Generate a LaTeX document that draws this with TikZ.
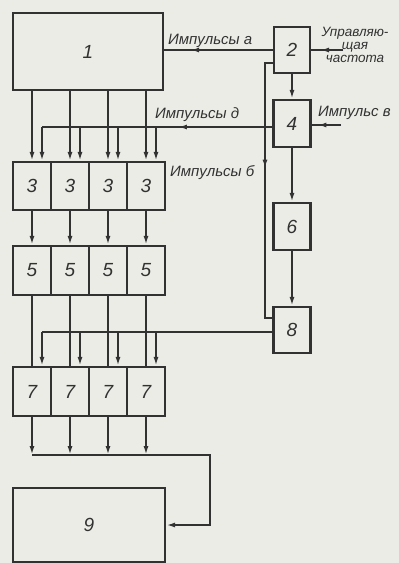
\documentclass[tikz,border=0pt]{standalone}
\usepackage{fontspec}
\setmainfont{Liberation Sans}
\usetikzlibrary{arrows.meta,decorations.markings,calc}
\definecolor{paper}{RGB}{236,236,231}
\definecolor{ink}{RGB}{50,50,50}
\begin{document}
\begin{tikzpicture}[x=1pt,y=-1pt,
  blk/.style={draw=ink, line width=2.2pt, inner sep=0pt, text=ink,
    font=\fontsize{19}{19}\selectfont\itshape},
  cell/.style={blk, minimum width=38pt},
  lbl/.style={font=\fontsize{15}{12}\selectfont\itshape, text=ink, inner sep=0pt},
  conn/.style={draw=ink, line width=1.8pt},
  arr/.style={conn, -{Latex[length=9pt,width=5pt]}},
  midarr/.style={conn, postaction={decorate},
    decoration={markings, mark=at position #1 with {\arrow{Latex[length=9pt,width=5pt]}}}}]
\fill[paper] (0,0) rectangle (399,563);
\useasboundingbox (0,0) rectangle (399,563);

% main blocks
\node[blk, minimum width=150pt, minimum height=77pt] (b1) at (88,51.5) {1};
\node[blk, minimum width=36pt, minimum height=46pt] (b2) at (292,50) {2};
\node[blk, minimum width=37pt, minimum height=47pt] (b4) at (292,123.5) {4};
\node[blk, minimum width=37pt, minimum height=47pt] (b6) at (292,226.5) {6};
\node[blk, minimum width=37pt, minimum height=46pt] (b8) at (292,330) {8};
\node[blk, minimum width=152pt, minimum height=74pt] (b9) at (89,525) {9};

% rows of cells
\foreach \i [evaluate=\i as \cx using {32+38*(\i-1)}] in {1,2,3,4} {
  \node[cell, minimum height=48pt] (r3\i) at (\cx,186) {3};
  \node[cell, minimum height=49pt] (r5\i) at (\cx,270.5) {5};
  \node[cell, minimum height=49pt] (r7\i) at (\cx,391.5) {7};
}

% helper coordinates
\coordinate (dstart) at ($(b4.west)+(0,3.5)$);
\coordinate (ebus) at ($(b8.west)+(0,2)$);
\coordinate (fbus) at (210,455);
\coordinate (cf) at (343,50);
\coordinate (iv) at (341,125);
\coordinate (bl) at ($(b2.west)+(0,13)$);
\coordinate (bx) at (265,0);
\coordinate (b8w) at ($(b8.west)+(0,-12)$);

\foreach \i in {1,2,3,4} {
  \coordinate (d\i) at ($(r3\i.north)+(10,0)$);
  \coordinate (e\i) at ($(r7\i.north)+(10,0)$);
  \draw[arr] (r3\i.north |- b1.south) -- (r3\i.north);
  \draw[arr] (d\i |- dstart) -- (d\i);
  \draw[arr] (r3\i.south) -- (r5\i.north);
  \draw[conn] (r5\i.south) -- (r7\i.north);
  \draw[arr] (e\i |- ebus) -- (e\i);
  \draw[arr] (r7\i.south) -- (r7\i.south |- fbus);
}

% buses
\draw[midarr=0.41] (dstart) -- (d1 |- dstart);
\draw[conn] (ebus) -- (e1 |- ebus);
\draw[arr] (r71.south |- fbus) -- (fbus) -- (fbus |- b9.east) -- (b9.east);

% right column
\draw[midarr=0.76] (b2.west) -- (b2.west -| b1.east);
\draw[midarr=0.72] (cf) -- (b2.east);
\draw[midarr=0.8] (iv) -- (iv -| b4.east);
\draw[arr] (b2.south) -- (b4.north);
\draw[arr] (b4.south) -- (b6.north);
\draw[arr] (b6.south) -- (b8.north);
\draw[midarr=0.42] (bl) -- (bx |- bl) -- (bx |- b8w) -- (b8w);

% labels
\node[lbl, anchor=base west] (la) at (168,44) {Импульсы а};
\node[lbl, anchor=base west] (ld) at (155,118) {Импульсы д};
\node[lbl, anchor=base west] (lv) at (318,116) {Импульс в};
\node[lbl, anchor=base west] (lb) at (170,176) {Импульсы б};
\node[lbl, font=\fontsize{13.5}{13}\selectfont\itshape, align=center, anchor=north] (lf) at (355,27) {Управляю-\\щая\\частота};
\end{tikzpicture}
\end{document}
